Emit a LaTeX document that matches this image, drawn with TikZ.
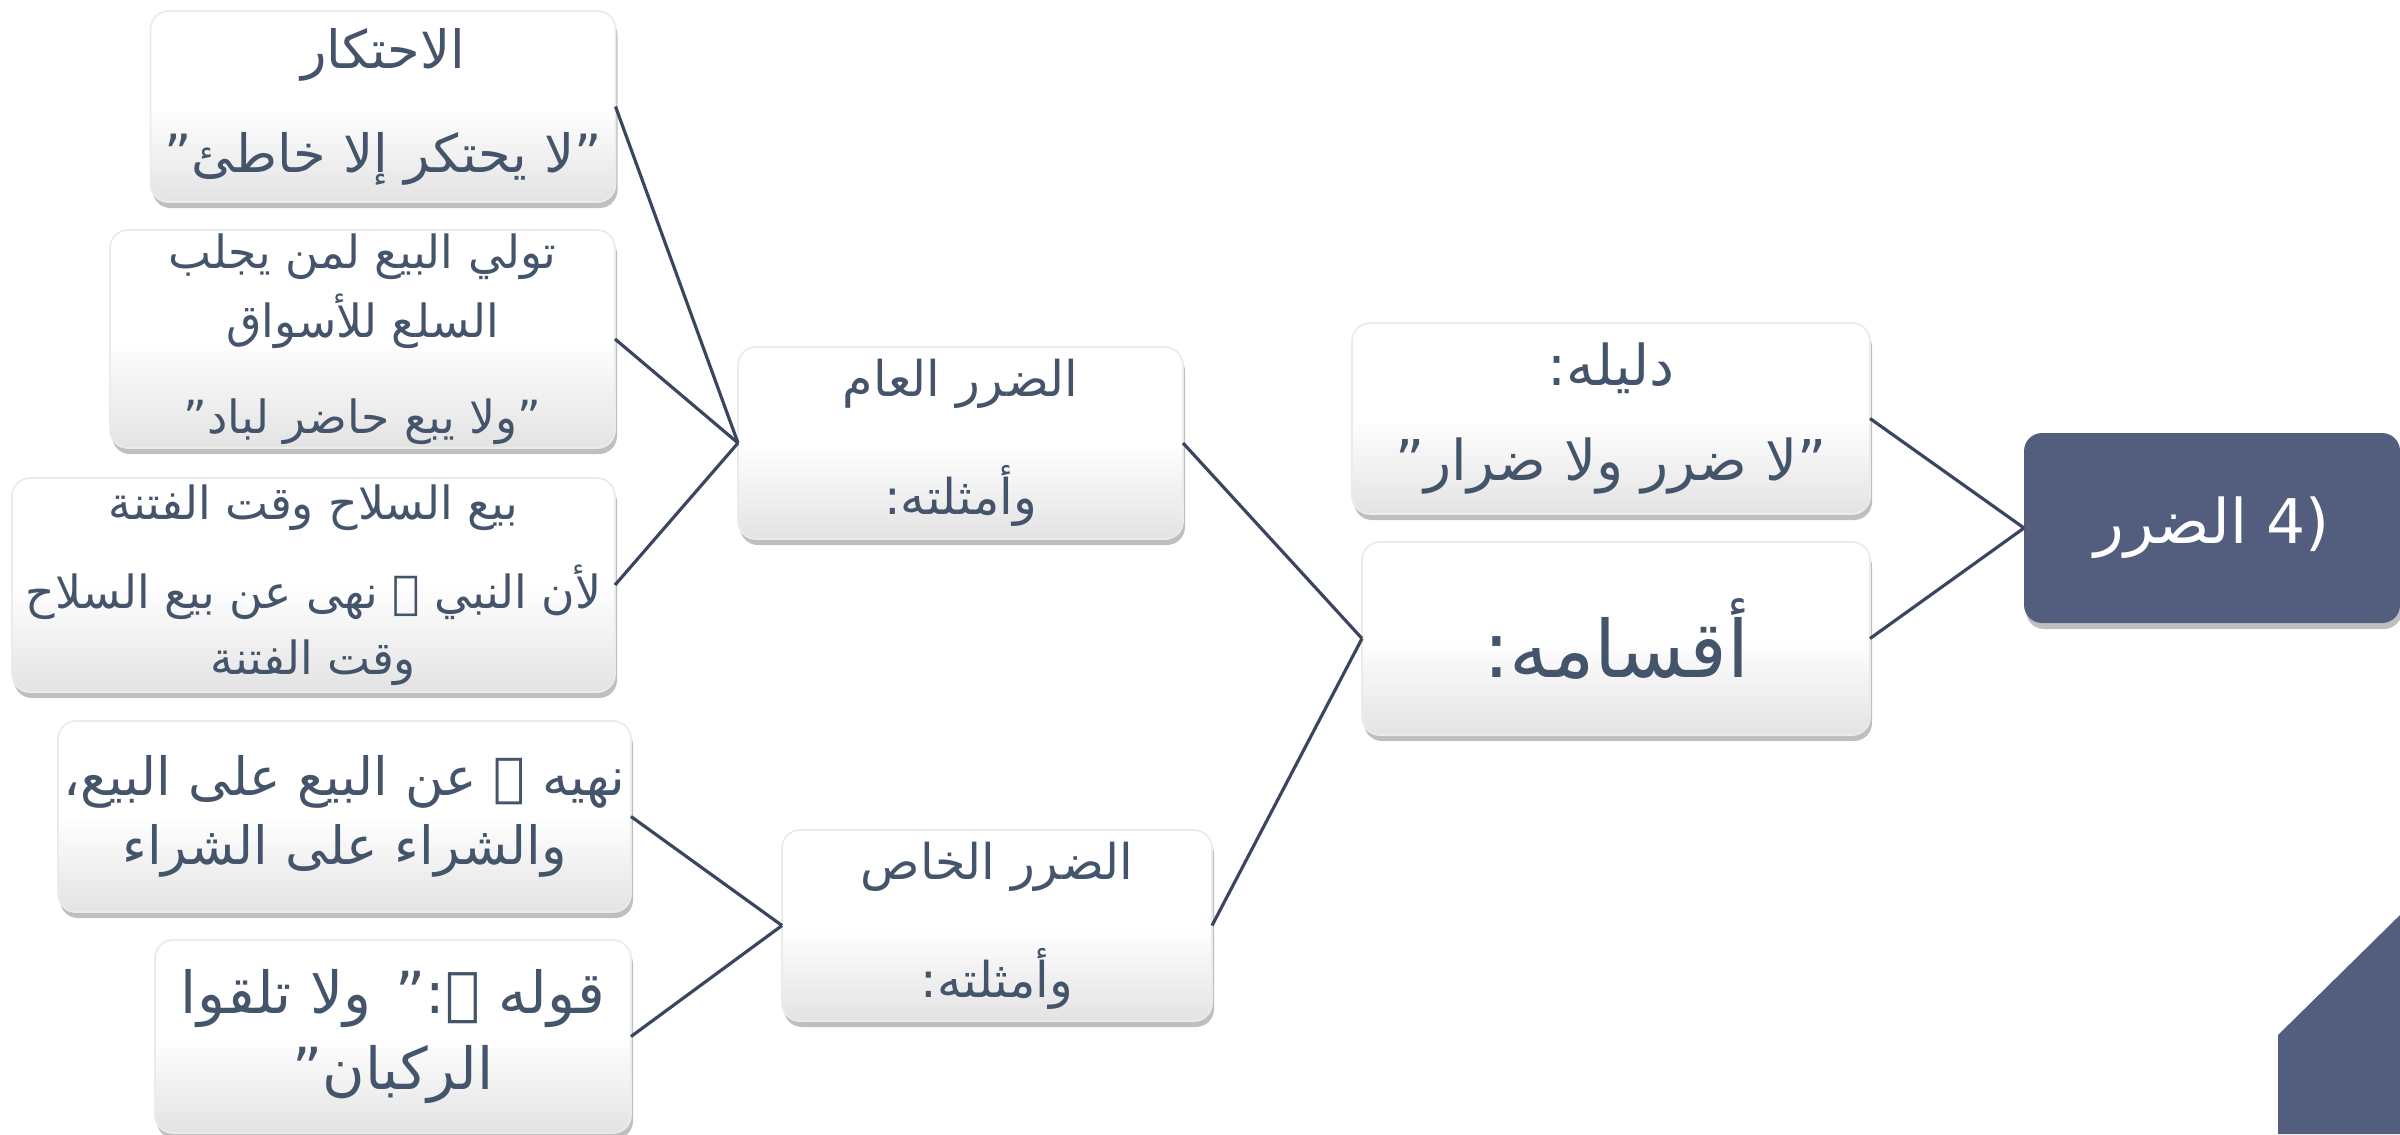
\documentclass[tikz,border=0pt]{standalone}
\usepackage{fontspec}
\newfontfamily\arabicfont[Script=Arabic]{DejaVu Sans}
\TeXXeTstate=1
\usetikzlibrary{shadows}
\definecolor{textcol}{HTML}{44546A}
\definecolor{darkbox}{HTML}{535E7E}
\definecolor{linkcol}{HTML}{3A465E}
\newcommand{\ar}[1]{\beginR #1\endR}
\newcommand{\fs}[2]{\arabicfont\fontsize{#1}{#2}\selectfont}
\tikzstyle{box}=[rounded corners=0.18cm, inner sep=0pt, outer sep=0pt, align=center, text=textcol,
  draw=black!8, line width=0.5pt,
  top color=white, bottom color=black!11, middle color=white,
  drop shadow={opacity=0.5, shadow xshift=0.02cm, shadow yshift=-0.06cm}]
\tikzstyle{topic}=[rounded corners=0.18cm, inner sep=0pt, outer sep=0pt, align=center, text=white,
  fill=darkbox, drop shadow={opacity=0.5, shadow xshift=0.02cm, shadow yshift=-0.06cm}]
\tikzstyle{link}=[draw=linkcol, line width=0.9pt]

\begin{document}
\begin{tikzpicture}
\useasboundingbox (0,0) rectangle (24,-11.34);

\fill[darkbox] (22.78,-11.34) -- (22.78,-10.35) -- (24,-9.15) -- (24,-11.34) -- cycle;

\node[box, minimum width=4.65cm, minimum height=1.91cm, font=\fs{15}{29.6}] (ihtikar) at (3.83,-1.065)
  {\ar{الاحتكار}\\\ar{”لا يحتكر إلا خاطئ”}};
\node[box, minimum width=5.05cm, minimum height=2.18cm, font=\fs{13}{19.6}] (talaqqi) at (3.625,-3.39)
  {\ar{تولي البيع لمن يجلب}\\\ar{السلع للأسواق}\\[7.8pt]\ar{”ولا يبع حاضر لباد”}};
\node[box, minimum width=6.03cm, minimum height=2.14cm, font=\fs{13}{18.7}] (silah) at (3.135,-5.85)
  {\ar{بيع السلاح وقت الفتنة}\\[6.6pt]\ar{لأن النبي ﷺ نهى عن بيع السلاح}\\\ar{وقت الفتنة}};
\node[box, minimum width=5.73cm, minimum height=1.91cm, font=\fs{15}{19.6}] (bayu) at (3.445,-8.165)
  {\ar{نهيه ﷺ عن البيع على البيع،}\\\ar{والشراء على الشراء}};
\node[box, minimum width=4.76cm, minimum height=1.93cm, font=\fs{16.5}{21.8}] (rukban) at (3.93,-10.365)
  {\ar{قوله ﷺ:” ولا تلقوا}\\\ar{الركبان”}};

\node[box, minimum width=4.45cm, minimum height=1.92cm, font=\fs{14}{33.5}] (amm) at (9.605,-4.43)
  {\ar{الضرر العام}\\\ar{وأمثلته:}};
\node[box, minimum width=4.30cm, minimum height=1.91cm, font=\fs{14}{33.5}] (khass) at (9.97,-9.255)
  {\ar{الضرر الخاص}\\\ar{وأمثلته:}};

\node[box, minimum width=5.18cm, minimum height=1.91cm, font=\fs{16}{27}] (dalil) at (16.11,-4.185)
  {\ar{دليله:}\\\ar{”لا ضرر ولا ضرار”}};
\node[box, minimum width=5.08cm, minimum height=1.93cm, font=\fs{22.5}{27}] (aqsam) at (16.16,-6.385)
  {\ar{أقسامه:}};

\node[topic, minimum width=3.76cm, minimum height=1.90cm, font=\fs{17.5}{21}] (darar) at (22.12,-5.28)
  {\ar{(4 الضرر}};

% links
\draw[link] (ihtikar.east) -- (amm.west);
\draw[link] (talaqqi.east) -- (amm.west);
\draw[link] (silah.east) -- (amm.west);
\draw[link] (bayu.east) -- (khass.west);
\draw[link] (rukban.east) -- (khass.west);
\draw[link] (amm.east) -- (aqsam.west);
\draw[link] (khass.east) -- (aqsam.west);
\draw[link] (dalil.east) -- (darar.west);
\draw[link] (aqsam.east) -- (darar.west);
\end{tikzpicture}
\end{document}
